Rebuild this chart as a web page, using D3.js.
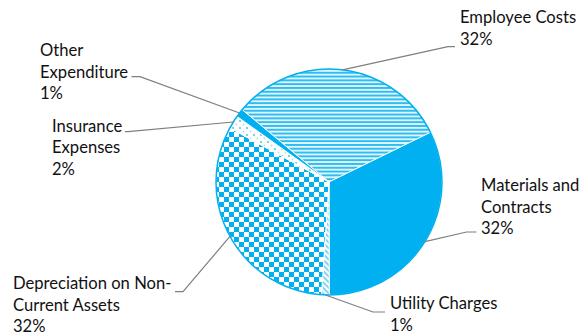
<!DOCTYPE html>
<html><head><meta charset="utf-8">
<script src="https://cdn.jsdelivr.net/npm/d3@7"></script>
<style>body{margin:0;background:#fff}svg{display:block}text{font-family:Lato,"Noto Sans",sans-serif;font-size:16.6px;fill:#111}</style>
</head><body>
<script>
const categories = ["Employee Costs","Materials and Contracts","Utility Charges","Depreciation on Non-Current Assets","Insurance Expenses","Other Expenditure"];
const values = [31.7, 32.2, 1.1, 31.9, 1.9, 1.2];
const percentLabels = ["32%","32%","1%","32%","2%","1%"];
const labelLines = [["Employee Costs","32%"],["Materials and","Contracts","32%"],["Utility Charges","1%"],["Depreciation on Non-","Current Assets","32%"],["Insurance","Expenses","2%"],["Other","Expenditure","1%"]];

const W=588,H=336, cx=329, cy=182, R=113;
const blue="#00B0F0";
const svg=d3.select("body").append("svg").attr("width",W).attr("height",H);
const defs=svg.append("defs");
// patterns
let p=defs.append("pattern").attr("id","pStripe").attr("patternUnits","userSpaceOnUse").attr("width",8).attr("height",3.8);
p.append("rect").attr("width",8).attr("height",3.8).attr("fill","#dff4fc");
p.append("rect").attr("width",8).attr("height",1.9).attr("fill","#2dbdf1");
p=defs.append("pattern").attr("id","pCheck").attr("patternUnits","userSpaceOnUse").attr("width",10).attr("height",10);
p.append("rect").attr("width",10).attr("height",10).attr("fill","#fff");
p.append("rect").attr("width",5).attr("height",5).attr("fill",blue);
p.append("rect").attr("x",5).attr("y",5).attr("width",5).attr("height",5).attr("fill",blue);
p=defs.append("pattern").attr("id","pDiag").attr("patternUnits","userSpaceOnUse").attr("width",4).attr("height",4).attr("patternTransform","rotate(-45)");
p.append("rect").attr("width",4).attr("height",4).attr("fill","#fff");
p.append("rect").attr("width",2).attr("height",4).attr("fill","#7fd6f6");
p=defs.append("pattern").attr("id","pDot").attr("patternUnits","userSpaceOnUse").attr("width",7).attr("height",7);
p.append("rect").attr("width",7).attr("height",7).attr("fill","#fff");
p.append("circle").attr("cx",2).attr("cy",2).attr("r",1.1).attr("fill","#5cc9d6");
p.append("circle").attr("cx",5.5).attr("cy",5.5).attr("r",0.9).attr("fill","#a9e3ec");
const fills=["url(#pStripe)",blue,"url(#pDiag)","url(#pCheck)","url(#pDot)",blue];

const startA=-50.2*Math.PI/180;
const pie=d3.pie().sort(null).value(d=>d).startAngle(startA).endAngle(startA+2*Math.PI);
const arcs=pie(values);
const arc=d3.arc().innerRadius(0).outerRadius(R);
const g=svg.append("g").attr("transform",`translate(${cx},${cy})`);
g.selectAll("path.s").data(arcs).join("path").attr("class","s").attr("d",arc)
 .attr("fill",(d,i)=>fills[i]).attr("stroke","#fff").attr("stroke-width",1);
g.append("circle").attr("r",R).attr("fill","none").attr("stroke",blue).attr("stroke-width",1.5);

const labelPos=[
 {x:460,y:23,lead:[[455,46.7],[448,46.7]]},
 {x:481,y:191,lead:[[476.5,232],[466.5,232]]},
 {x:390,y:309,lead:[[385,312],[373,312]]},
 {x:13,y:289,lead:[[175,291.7],[183,291.7]]},
 {x:52,y:131.5,lead:[[125,131.7],[128,131.7]]},
 {x:40,y:56,lead:[[131.5,76.7],[140,76.7]]}
];
const lh=21.6;
labelLines.forEach((lines,i)=>{
  const lp=labelPos[i];
  const t=svg.append("text").attr("x",lp.x).attr("y",lp.y);
  lines.forEach((s,j)=>t.append("tspan").attr("x",lp.x).attr("dy",j?lh:0).text(s));
  const a=arcs[i]; const mid=(a.startAngle+a.endAngle)/2;
  const edge=[cx+R*Math.sin(mid), cy-R*Math.cos(mid)];
  const pts=lp.lead.concat([edge]);
  svg.append("path").attr("d",d3.line()(pts)).attr("fill","none").attr("stroke","#7f7f7f").attr("stroke-width",1.2);
});
</script>
</body></html>
